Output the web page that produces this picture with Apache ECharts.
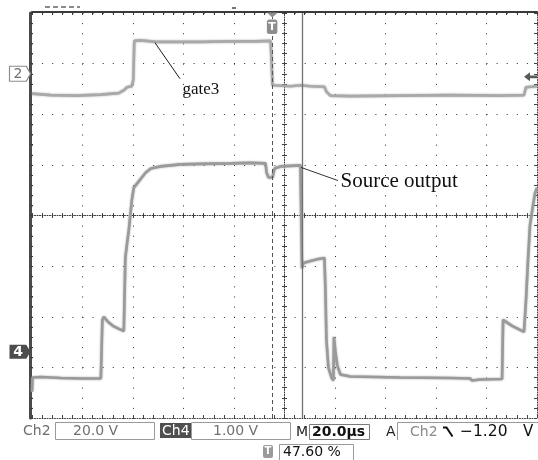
<!DOCTYPE html>
<html><head><meta charset="utf-8">
<style>html,body{margin:0;padding:0;background:#fff;}#c{width:538px;height:460px;}</style>
<script src="https://cdn.jsdelivr.net/npm/echarts@6/dist/echarts.min.js"></script>
</head><body><div id="c"></div>
<script>
// ---- scope settings ----
const timeMin = 0, timeMax = 200, timeDiv = 20;      // µs, 20 µs/div, 10 div
const divMin = -4, divMax = 4;                        // 8 vertical divisions
const CH2_VDIV = 20.0, CH2_POS = 2.80;                // V/div, ground marker (div above centre)
const CH4_VDIV = 1.00, CH4_POS = -2.69;
const TRIG_PCT = 47.60;                               // trigger position %
const TRIG_LEVEL = -1.20;                             // V on Ch2
const CURSOR_T = 106.9;                               // µs
const labelCh2 = 'Ch2', labelCh4 = 'Ch4';
const textCh2Scale = '20.0 V', textCh4Scale = '1.00 V', textTime = '20.0µs';

// ---- Ch2 : gate3 (V vs µs) ----
const gateT = [0, 7.51, 17.39, 27.27, 34.39, 36.76, 37.55, 39.53, 40.12, 40.51, 43.08, 49.01, 58.89, 66.80, 78.66, 88.54, 94.47, 94.86, 95.26, 102.37, 106.32, 110.28, 115.81, 116.60, 118.18, 126.09, 145.85, 165.61, 185.38, 194.86, 195.65, 200];
const gateV = [-7.86, -8.45, -8.65, -8.26, -7.67, -6.29, -5.31, -4.91, -2.36, 12.97, 13.17, 12.58, 12.58, 12.58, 12.78, 12.78, 12.97, 5.50, -4.52, -4.91, -4.52, -4.91, -5.11, -7.08, -8.65, -8.85, -8.65, -8.45, -8.65, -8.45, -5.31, -4.91];

// ---- Ch4 : Source output (V vs µs) ----
const srcT = [0, 0.20, 3.56, 11.46, 19.37, 27.27, 27.67, 27.87, 28.46, 30.04, 32.02, 34.39, 36.36, 36.96, 37.55, 38.34, 39.53, 40.32, 41.90, 43.48, 45.06, 47.04, 50.99, 58.89, 66.80, 78.66, 86.56, 92.49, 92.89, 93.68, 95.26, 96.05, 98.42, 106.32, 106.72, 106.92, 107.51, 110.28, 113.44, 115.81, 116.21, 116.60, 117.39, 118.58, 119.37, 119.57, 120.16, 120.95, 122.13, 126.09, 145.85, 165.61, 173.52, 174.31, 177.47, 186.17, 186.57, 187.75, 190.12, 192.49, 194.86, 195.65, 196.44, 197.23, 198.42, 199.21, 200];
const srcV = [-0.79, -0.51, -0.50, -0.52, -0.53, -0.53, -0.51, 0.63, 0.69, 0.59, 0.51, 0.45, 0.41, 1.85, 2.10, 2.40, 2.99, 3.24, 3.34, 3.44, 3.54, 3.62, 3.66, 3.70, 3.71, 3.72, 3.73, 3.72, 3.54, 3.44, 3.44, 3.62, 3.66, 3.68, 3.66, 1.65, 1.75, 1.79, 1.83, 1.85, 1.22, 0.24, -0.31, -0.51, -0.57, 0.29, 0.00, -0.28, -0.45, -0.49, -0.51, -0.52, -0.53, -0.57, -0.55, -0.54, 0.63, 0.59, 0.51, 0.45, 0.39, 1.02, 1.81, 2.50, 2.89, 3.13, 3.24];

// ---- annotations (data coords) ----
const gateNoteLine = [[48.71, 12.25], [58.61, -1.98]];
const gateNoteAt = [59.01, -6.32];
const srcNoteLine = [[106.53, 3.64], [121.19, 3.38]];
const srcNoteAt = [121.58, 3.36];

const zip = (a, b) => a.map((v, i) => [v, b[i]]);
const trigT = timeMin + TRIG_PCT / 100 * (timeMax - timeMin);

const chart = echarts.init(document.getElementById('c'), null, {renderer: 'canvas'});
const dark = '#3a3a3a';
const noLbl = {show: false};
const hid = {show: false};
function tick(len, color) { return {show: true, inside: true, length: len, lineStyle: {color: color || dark, width: 1}}; }
function minor(len, color) { return {show: true, splitNumber: 5, length: len, lineStyle: {color: color || dark, width: 1}}; }

const G = {left: 32, top: 13, width: 505, height: 405};
const option = {
  animation: false,
  backgroundColor: '#ffffff',
  grid: [
    {left: G.left, top: G.top, width: G.width, height: G.height},
    {left: G.left, top: G.top, width: G.width, height: G.height / 2},
    {left: G.left, top: G.top + G.height / 2, width: G.width, height: G.height / 2},
    {left: G.left, top: G.top, width: G.width / 2, height: G.height},
    {left: G.left + G.width / 2, top: G.top, width: G.width / 2, height: G.height}
  ],
  xAxis: [
    {gridIndex: 0, type: 'value', min: timeMin, max: timeMax, interval: timeDiv, position: 'top', offset: 1,
     axisLine: {show: true, onZero: false, lineStyle: {color: dark, width: 2}},
     axisTick: tick(3), minorTick: minor(3), axisLabel: noLbl,
     splitLine: {show: true, lineStyle: {color: '#2a2a2a', width: 1, type: [1, 9.125]}}},
    {gridIndex: 0, type: 'value', min: timeMin, max: timeMax, interval: timeDiv, position: 'bottom',
     axisLine: {show: true, onZero: false, lineStyle: {color: '#444', width: 1, type: [1, 1.5]}},
     axisTick: tick(3, '#444'), minorTick: minor(3, '#444'), axisLabel: noLbl, splitLine: hid},
    {gridIndex: 1, type: 'value', min: timeMin, max: timeMax, interval: timeDiv, position: 'bottom',
     axisLine: {show: true, onZero: false, lineStyle: {color: '#333', width: 1, type: [1, 1.5]}},
     axisTick: tick(2.5, '#444'), minorTick: minor(2.5, '#444'), axisLabel: noLbl, splitLine: hid},
    {gridIndex: 2, type: 'value', min: timeMin, max: timeMax, interval: timeDiv, position: 'top',
     axisLine: {show: false, onZero: false},
     axisTick: tick(2.5, '#444'), minorTick: minor(2.5, '#444'), axisLabel: noLbl, splitLine: hid},
    {gridIndex: 3, type: 'value', min: 0, max: 100, show: false, axisLine: {onZero: false}},
    {gridIndex: 4, type: 'value', min: 100, max: 200, show: false, axisLine: {onZero: false}}
  ],
  yAxis: [
    {gridIndex: 0, type: 'value', min: divMin, max: divMax, interval: 1, position: 'left', offset: 2,
     axisLine: {show: true, onZero: false, lineStyle: {color: '#4a4a4a', width: 3}},
     axisTick: tick(3), minorTick: minor(3), axisLabel: noLbl,
     splitLine: {show: true, lineStyle: {color: '#2a2a2a', width: 1, type: [1, 9.1]}}},
    {gridIndex: 0, type: 'value', min: divMin, max: divMax, interval: 1, position: 'right',
     axisLine: {show: true, onZero: false, lineStyle: {color: '#444', width: 1, type: [1, 1.5]}},
     axisTick: tick(3, '#444'), minorTick: minor(3, '#444'), axisLabel: noLbl, splitLine: hid},
    {gridIndex: 0, type: 'value', show: false, axisLine: {onZero: false},
     min: (divMin - CH2_POS) * CH2_VDIV, max: (divMax - CH2_POS) * CH2_VDIV},
    {gridIndex: 0, type: 'value', show: false, axisLine: {onZero: false},
     min: (divMin - CH4_POS) * CH4_VDIV, max: (divMax - CH4_POS) * CH4_VDIV},
    {gridIndex: 1, type: 'value', min: 0, max: 4, show: false, axisLine: {onZero: false}},
    {gridIndex: 2, type: 'value', min: -4, max: 0, show: false, axisLine: {onZero: false}},
    {gridIndex: 3, type: 'value', min: divMin, max: divMax, interval: 1, position: 'right',
     axisLine: {show: true, onZero: false, lineStyle: {color: '#333', width: 1, type: [1, 1.5]}},
     axisTick: tick(2.5, '#444'), minorTick: minor(2.5, '#444'), axisLabel: noLbl, splitLine: hid},
    {gridIndex: 4, type: 'value', min: divMin, max: divMax, interval: 1, position: 'left',
     axisLine: {show: false, onZero: false},
     axisTick: tick(2.5, '#444'), minorTick: minor(2.5, '#444'), axisLabel: noLbl, splitLine: hid}
  ],
  series: [
    {
      type: 'line', name: 'gate3', xAxisIndex: 0, yAxisIndex: 2, data: zip(gateT, gateV),
      symbol: 'none', showSymbol: false, z: 3,
      lineStyle: {color: '#a9a9a9', width: 2.6, shadowColor: 'rgba(160,160,160,0.9)', shadowBlur: 2},
      itemStyle: {color: '#a9a9a9'},
      markLine: {
        silent: true, symbol: ['none', 'none'], label: {show: false}, animation: false,
        data: [
          {xAxis: trigT, lineStyle: {type: [4, 3], color: '#555', width: 1, shadowBlur: 0}},
          {xAxis: CURSOR_T, lineStyle: {type: 'solid', color: '#707070', width: 1.3, shadowBlur: 0}},
          [{coord: gateNoteLine[0], lineStyle: {type: 'solid', color: '#1a1a1a', width: 1, shadowBlur: 0}}, {coord: gateNoteLine[1]}]
        ]
      },
      markPoint: {
        silent: true, animation: false,
        data: [
          {coord: [timeMin, 0], symbol: 'path://M0,0 H16 L20,7.5 L16,15 H0 Z', symbolSize: [21, 15], symbolOffset: [-12, 0],
           itemStyle: {color: '#ffffff', borderColor: '#8c8c8c', borderWidth: 1},
           label: {show: true, position: 'inside', formatter: '2', color: '#6f6f6f', fontSize: 14, fontFamily: 'DejaVu Sans', offset: [-2, 0.5]}},
          {coord: [timeMax, TRIG_LEVEL], symbol: 'path://M0,5 L6,0 V3.5 H13 V6.5 H6 V10 Z', symbolSize: [13, 9], symbolOffset: [-6.5, 0],
           itemStyle: {color: '#5a5a5a'}, label: {show: false}},
          {coord: gateNoteAt, symbol: 'circle', symbolSize: 1, itemStyle: {color: 'rgba(0,0,0,0)'},
           label: {show: true, position: 'right', distance: 1, formatter: 'gate3', fontFamily: 'Liberation Serif', fontSize: 17, color: '#111'}}
        ]
      }
    },
    {
      type: 'line', name: 'Source output', xAxisIndex: 0, yAxisIndex: 3, data: zip(srcT, srcV),
      symbol: 'none', showSymbol: false, z: 3,
      lineStyle: {color: '#9a9a9a', width: 2.6, shadowColor: 'rgba(150,150,150,0.9)', shadowBlur: 2},
      itemStyle: {color: '#9a9a9a'},
      markLine: {
        silent: true, symbol: ['none', 'none'], label: {show: false}, animation: false,
        data: [
          [{coord: srcNoteLine[0], lineStyle: {type: 'solid', color: '#333', width: 1, shadowBlur: 0}}, {coord: srcNoteLine[1]}]
        ]
      },
      markPoint: {
        silent: true, animation: false,
        data: [
          {coord: [timeMin, 0], symbol: 'path://M0,0 H16 L20,7 L16,14 H0 Z', symbolSize: [21, 14], symbolOffset: [-12, 0],
           itemStyle: {color: '#4d4d4d'},
           label: {show: true, position: 'inside', formatter: '4', color: '#fff', fontWeight: 'bold', fontSize: 14, fontFamily: 'DejaVu Sans', offset: [-2, 0.5]}},
          {coord: srcNoteAt, symbol: 'circle', symbolSize: 1, itemStyle: {color: 'rgba(0,0,0,0)'},
           label: {show: true, position: 'right', distance: 1, formatter: 'Source output', fontFamily: 'Liberation Serif', fontSize: 21, color: '#111'}}
        ]
      }
    }
  ]
};
chart.setOption(option);

// ---- scope UI decorations ----
const tx = chart.convertToPixel({xAxisIndex: 0}, trigT);
const F = 'DejaVu Sans';
function T(x, y, s, fill, extra) {
  return {type: 'text', x: x, y: y, silent: true, z: 10,
    style: Object.assign({text: s, fill: fill, font: '14px "' + F + '"', verticalAlign: 'middle'}, extra || {})};
}
function R(x, y, w, h, stroke, fill) {
  return {type: 'rect', silent: true, z: 9, shape: {x: x, y: y, width: w, height: h},
    style: {stroke: stroke || 'none', fill: fill || '#fff', lineWidth: 1}};
}
const graphics = [
  // top trigger marker
  {type: 'polygon', silent: true, z: 10, shape: {points: [[tx - 5.5, 12.5], [tx + 5.5, 12.5], [tx, 17.5]]}, style: {fill: '#8d8d8d'}},
  {type: 'rect', silent: true, z: 10, shape: {x: tx - 5.5, y: 19.5, width: 10.5, height: 14.5, r: 2.5}, style: {fill: '#8d8d8d'}},
  {type: 'text', silent: true, z: 11, x: tx - 0.3, y: 27, style: {text: 'T', fill: '#fff', font: 'bold 11px "DejaVu Sans"', align: 'center', verticalAlign: 'middle'}},
  // record bar marks above graticule
  {type: 'line', silent: true, z: 10, shape: {x1: 45, y1: 7, x2: 80, y2: 7}, style: {stroke: '#8a8a8a', lineWidth: 2, lineDash: [5, 3]}},
  {type: 'line', silent: true, z: 10, shape: {x1: 232, y1: 8, x2: 236, y2: 8}, style: {stroke: '#777', lineWidth: 2}},
  // status bar row 1
  T(23, 431, labelCh2, '#6e6e6e'),
  R(55.5, 422.5, 99, 17, '#9a9a9a'),
  T(73, 431, textCh2Scale, '#707070'),
  R(160, 423, 31, 15, null, '#4f4f4f'),
  T(162, 431, labelCh4, '#ffffff'),
  R(191.5, 422.5, 99, 17, '#9a9a9a'),
  T(213, 431, textCh4Scale, '#707070'),
  T(296, 432, 'M', '#222'),
  R(309.5, 424.5, 60, 15, '#7a7a7a'),
  T(312, 432, textTime, '#111', {font: 'bold 14px "' + F + '"'}),
  T(386, 432, 'A', '#222'),
  {type: 'polyline', silent: true, z: 9, shape: {points: [[397.5, 440], [397.5, 422.5], [538, 422.5]]}, style: {stroke: '#9a9a9a', lineWidth: 1, fill: 'none'}},
  T(410, 432, labelCh2, '#8a8a8a'),
  {type: 'polyline', silent: true, z: 10, shape: {points: [[443, 427.5], [446.5, 427.5], [452.5, 436.5]]}, style: {stroke: '#111', lineWidth: 2, fill: 'none'}},
  T(460, 432, (TRIG_LEVEL < 0 ? '\u2212' : '') + Math.abs(TRIG_LEVEL).toFixed(2), '#111', {font: '15.5px "' + F + '"'}),
  T(523, 432, 'V', '#111', {font: '15px "' + F + '"'}),
  // status bar row 2
  {type: 'rect', silent: true, z: 10, shape: {x: 263, y: 445, width: 10, height: 13, r: 2}, style: {fill: '#9a9a9a'}},
  {type: 'text', silent: true, z: 11, x: 268, y: 451.5, style: {text: 'T', fill: '#fff', font: 'bold 10px "DejaVu Sans"', align: 'center', verticalAlign: 'middle'}},
  R(279.5, 444.5, 74, 16, '#9a9a9a'),
  T(283, 452, TRIG_PCT.toFixed(2) + ' %', '#111')
];
chart.setOption({graphic: graphics});
</script></body></html>
